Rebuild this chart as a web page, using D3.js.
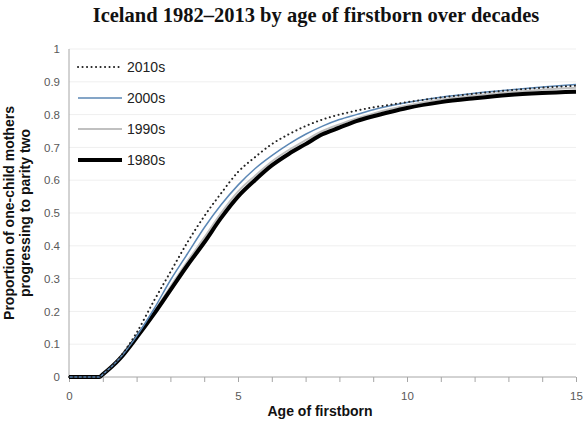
<!DOCTYPE html>
<html>
<head>
    <meta charset="utf-8">
    <script src="https://cdn.jsdelivr.net/npm/d3@7/dist/d3.min.js"></script>
    <style>
        body { margin: 0; background: #fff; }
    </style>
</head>
<body>
<div id="graph"></div>
<script>

// data
const ages = [0, 0.9, 1, 1.5, 2, 2.5, 3, 3.5, 4, 4.5, 5, 5.5, 6, 6.5, 7, 7.5, 8, 8.5, 9, 9.5, 10, 11, 12, 13, 14, 15];
const s1980 = [0, 0, 0.008, 0.055, 0.12, 0.19, 0.265, 0.34, 0.41, 0.485, 0.55, 0.6, 0.645, 0.68, 0.71, 0.74, 0.76, 0.78, 0.795, 0.808, 0.82, 0.838, 0.85, 0.86, 0.866, 0.87];
const s1990 = [0, 0, 0.008, 0.056, 0.122, 0.197, 0.275, 0.352, 0.425, 0.5, 0.565, 0.613, 0.657, 0.692, 0.722, 0.75, 0.77, 0.788, 0.803, 0.817, 0.828, 0.846, 0.858, 0.868, 0.876, 0.882];
const s2000 = [0, 0, 0.008, 0.057, 0.125, 0.205, 0.295, 0.375, 0.455, 0.525, 0.585, 0.635, 0.675, 0.71, 0.74, 0.765, 0.785, 0.8, 0.815, 0.827, 0.837, 0.853, 0.865, 0.875, 0.884, 0.892];
const s2010 = [0, 0, 0.008, 0.06, 0.135, 0.23, 0.32, 0.41, 0.49, 0.56, 0.625, 0.67, 0.71, 0.74, 0.765, 0.785, 0.8, 0.812, 0.822, 0.83, 0.838, 0.852, 0.864, 0.874, 0.882, 0.888];
const xTickLabels = [0, 5, 10, 15];
const yTicks = [0, 0.1, 0.2, 0.3, 0.4, 0.5, 0.6, 0.7, 0.8, 0.9, 1];
const legendNames = ["2010s", "2000s", "1990s", "1980s"];

const W = 586, H = 424;
const margin = {top: 49, right: 10, bottom: 47, left: 69};
const width = W - margin.left - margin.right,
      height = H - margin.top - margin.bottom;

const root = d3.select("#graph")
  .append("svg")
    .attr("width", W)
    .attr("height", H);

// title (only second line visible in the crop)
root.append("text")
    .attr("x", 316)
    .attr("y", 22)
    .attr("text-anchor", "middle")
    .style("font-family", "'Liberation Serif', 'Times New Roman', serif")
    .style("font-weight", "bold")
    .style("font-size", "20.5px")
    .style("fill", "#111")
    .text("Iceland 1982\u20132013 by age of firstborn over decades");

const svg = root.append("g")
    .attr("transform", `translate(${margin.left},${margin.top})`);

const x = d3.scaleLinear().domain([0, 15]).range([0, width]);
const y = d3.scaleLinear().domain([0, 1]).range([height, 0]);

// horizontal grid lines
svg.selectAll(".grid")
  .data(yTicks.filter(d => d > 0))
  .enter().append("line")
    .style("stroke", "#efefef")
    .style("stroke-width", 1)
    .attr("x1", 0)
    .attr("x2", width)
    .attr("y1", d => y(d))
    .attr("y2", d => y(d));

// X axis
const xAxis = svg.append("g")
  .attr("transform", `translate(0, ${height})`)
  .call(d3.axisBottom(x).ticks(15).tickSize(5).tickFormat(d => xTickLabels.includes(d) ? d : ""));
xAxis.select(".domain").style("stroke", "#a6a6a6").attr("d", `M0,0H${width}`);
xAxis.selectAll(".tick line").style("stroke", "#a6a6a6");
xAxis.selectAll(".tick text")
    .attr("dy", "1.3em")
    .style("font-family", "'Liberation Sans', Arial, sans-serif")
    .style("font-size", "11.5px")
    .style("fill", "#595959");

// Y axis
const yAxis = svg.append("g")
  .call(d3.axisLeft(y).tickValues(yTicks).tickSize(0).tickPadding(9).tickFormat(d3.format("~g")));
yAxis.select(".domain").style("stroke", "#a6a6a6").attr("d", `M0,${height}V0`);
yAxis.selectAll(".tick text")
    .style("font-family", "'Liberation Sans', Arial, sans-serif")
    .style("font-size", "11.5px")
    .style("fill", "#595959");

// axis titles
svg.append("text")
    .attr("x", 251)
    .attr("y", height + 39)
    .attr("text-anchor", "middle")
    .style("font-family", "'Liberation Sans', Arial, sans-serif")
    .style("font-weight", "bold")
    .style("font-size", "14px")
    .style("fill", "#111")
    .text("Age of firstborn");

const yTitle = svg.append("text")
    .attr("transform", `translate(-55, ${height / 2}) rotate(-90)`)
    .attr("text-anchor", "middle")
    .style("font-family", "'Liberation Sans', Arial, sans-serif")
    .style("font-weight", "bold")
    .style("font-size", "14px")
    .style("fill", "#111");
yTitle.append("tspan").attr("x", 0).attr("dy", 0).text("Proportion of one-child mothers");
yTitle.append("tspan").attr("x", 0).attr("dy", "1.15em").text("progressing to parity two");

// series
const styles = {
    "1980s": {data: s1980, color: "#000", w: 4, dash: null},
    "1990s": {data: s1990, color: "#c0c0c0", w: 2, dash: null},
    "2000s": {data: s2000, color: "#5b87b5", w: 1.5, dash: null},
    "2010s": {data: s2010, color: "#222", w: 2, dash: "0.1,4.4"}
};

const line = d3.line()
    .x((d, i) => x(ages[i]))
    .y(d => y(d))
    .curve(d3.curveMonotoneX);

["1990s", "1980s", "2000s", "2010s"].forEach(name => {
    const s = styles[name];
    svg.append("path")
      .datum(s.data)
      .attr("fill", "none")
      .attr("stroke", s.color)
      .attr("stroke-width", s.w)
      .attr("stroke-linecap", s.dash ? "round" : "butt")
      .attr("stroke-dasharray", s.dash)
      .attr("d", line);
});

// legend
legendNames.forEach((name, i) => {
    const s = styles[name];
    const ly = 18 + i * 31;
    svg.append("line")
        .attr("x1", 9).attr("x2", 53)
        .attr("y1", ly).attr("y2", ly)
        .attr("stroke", s.color)
        .attr("stroke-width", s.w)
        .attr("stroke-linecap", s.dash ? "round" : "butt")
        .attr("stroke-dasharray", s.dash);
    svg.append("text")
        .attr("x", 58)
        .attr("y", ly + 5)
        .style("font-family", "'Liberation Sans', Arial, sans-serif")
        .style("font-size", "14px")
        .style("fill", "#222")
        .text(name);
});

</script>
</body>
</html>
